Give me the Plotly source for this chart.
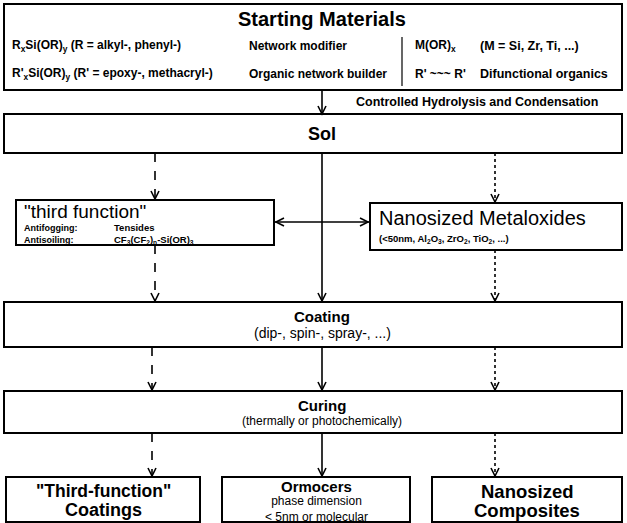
import plotly.graph_objects as go

W, H = 627, 523
FONT = "Liberation Sans, Arial, sans-serif"

# ---- diagram content ----
title_start = "Starting Materials"
row_left = ["R<sub>x</sub>Si(OR)<sub>y</sub> (R = alkyl-, phenyl-)",
            "R'<sub>x</sub>Si(OR)<sub>y</sub> (R' = epoxy-, methacryl-)"]
row_mid = ["Network modifier", "Organic network builder"]
row_r1 = ["M(OR)<sub>x</sub>", "R' ~~~ R'"]
row_r2 = ["(M = Si, Zr, Ti, ...)", "Difunctional organics"]
step_label = "Controlled Hydrolysis and Condensation"
sol_label = "Sol"
third_title = "\"third function\""
third_keys = ["Antifogging:", "Antisoiling:"]
third_vals = ["Tensides", "CF<sub>3</sub>(CF<sub>2</sub>)<sub>n</sub>-Si(OR)<sub>3</sub>"]
nano_title = "Nanosized Metaloxides"
nano_sub = "(<50nm, Al<sub>2</sub>O<sub>3</sub>, ZrO<sub>2</sub>, TiO<sub>2</sub>, ...)"
coating = ["Coating", "(dip-, spin-, spray-, ...)"]
curing = ["Curing", "(thermally or photochemically)"]
out1 = ["\"Third-function\"", "Coatings"]
out2 = ["Ormocers", "phase dimension", "< 5nm or molecular"]
out3 = ["Nanosized", "Composites"]

shapes = []
ann = []

def box(x0, y0, x1, y1, w=2):
    shapes.append(dict(type="rect", x0=x0, y0=y0, x1=x1, y1=y1,
                       line=dict(color="black", width=w), fillcolor="white", layer="below"))

def text(x, y, t, size=11, bold=False, anchor="center"):
    if bold:
        t = "<b>" + t + "</b>"
    ann.append(dict(x=x, y=y, xref="x", yref="y", text=t, showarrow=False,
                    xanchor=anchor, yanchor="middle", align="left" if anchor == "left" else "center",
                    font=dict(family=FONT, size=size, color="black")))

def vline(x, y0, y1, dash="solid", w=1.6):
    shapes.append(dict(type="line", x0=x, y0=y0, x1=x, y1=y1,
                       line=dict(color="black", width=w, dash=dash)))

def head_down(x, y):
    shapes.append(dict(type="path", path=f"M {x-4},{y-8} L {x},{y} L {x+4},{y-8}",
                       line=dict(color="black", width=1.6)))

def arrow_down(x, y0, y1, dash="solid"):
    vline(x, y0, y1, dash)
    head_down(x, y1)

# Starting materials
box(4, 4, 622, 90)
text(322, 19, title_start, 20, True)
for i, yy in enumerate([46, 74]):
    text(10, yy, row_left[i], 12, True, "left")
    text(247, yy, row_mid[i], 12, True, "left")
    text(413, yy, row_r1[i], 12, True, "left")
    text(478, yy, row_r2[i], 12.5, True, "left")
vline(402, 37, 86, w=1.2)

arrow_down(322, 90, 114)
text(354, 102, step_label, 12.5, True, "left")

# Sol
box(4, 114, 622, 153)
text(322, 134, sol_label, 18, True)

arrow_down(155, 153, 199, "dash")
arrow_down(495, 153, 202, "dot")
arrow_down(322, 153, 301)

# third function
box(16, 200, 274, 245)
text(22, 211, third_title, 19, False, "left")
text(22, 234, "<br>".join(third_keys), 9, True, "left")
text(112, 234, "<br>".join(third_vals), 9.5, True, "left")

# nano
box(370, 203, 622, 250)
text(377, 218, nano_title, 20, False, "left")
text(377, 239, nano_sub, 9.5, True, "left")

# double arrow
shapes.append(dict(type="line", x0=275, y0=222, x1=369, y1=222,
                   line=dict(color="black", width=1.6)))
shapes.append(dict(type="path", path="M 284,218 L 276,222 L 284,226",
                   line=dict(color="black", width=1.6)))
shapes.append(dict(type="path", path="M 360,218 L 368,222 L 360,226",
                   line=dict(color="black", width=1.6)))

arrow_down(155, 245, 301, "dash")
arrow_down(495, 250, 301, "dot")

# coating
box(4, 302, 622, 347)
text(322, 316, coating[0], 15, True)
text(322, 333, coating[1], 14, False)

arrow_down(152, 347, 390, "dash")
arrow_down(322, 347, 390)
arrow_down(495, 347, 390, "dot")

# curing
box(4, 391, 622, 433)
text(322, 405, curing[0], 15, True)
text(322, 421, curing[1], 12, False)

arrow_down(152, 433, 476, "dash")
arrow_down(322, 433, 476)
arrow_down(495, 433, 476, "dot")

# outputs
box(6, 477, 200, 522)
text(103, 491, out1[0], 17.5, True)
text(103, 510, out1[1], 18, True)
box(222, 477, 410, 522)
text(316, 486, out2[0], 15, True)
text(316, 509, "<br>".join(out2[1:]), 12, False)
box(432, 477, 622, 522)
text(527, 491, out3[0], 18.5, True)
text(527, 510, out3[1], 18.5, True)

fig = go.Figure()
fig.update_layout(width=W, height=H, margin=dict(l=0, r=0, t=0, b=0),
                  paper_bgcolor="white", plot_bgcolor="white",
                  shapes=shapes, annotations=ann, showlegend=False,
                  xaxis=dict(range=[0, W], visible=False, fixedrange=True),
                  yaxis=dict(range=[H, 0], visible=False, fixedrange=True))
fig.write_html("out.html", config={"displayModeBar": False},
               post_script="document.body.style.margin='0';document.body.style.overflow='hidden';")
